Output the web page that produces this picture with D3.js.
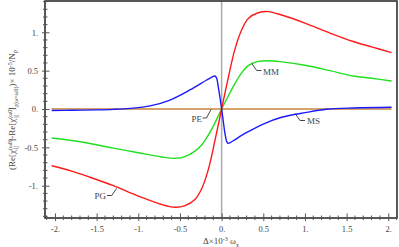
<!DOCTYPE html>
<html>
<head>
<meta charset="utf-8">
<script src="https://cdn.jsdelivr.net/npm/d3@7/dist/d3.min.js"></script>
<style>
  html, body { margin: 0; padding: 0; background: #fff; }
  svg { display: block; font-family: "Liberation Serif", "DejaVu Serif", serif; }
</style>
</head>
<body>
<svg></svg>
<script>
let w = 399
let h = 247
let pL = 45, pR = 397, pT = 1, pB = 218

// curves
let pgX = [-2.04, -1.8, -1.58, -1.3, -1.0, -0.72, -0.56, -0.44, -0.32, -0.24, -0.16, -0.08, 0, 0.08, 0.16, 0.24, 0.32, 0.44, 0.56, 0.72, 1.0, 1.3, 1.58, 1.8, 2.04]
let pgY = [-0.74, -0.81, -0.89, -1.0, -1.135, -1.245, -1.28, -1.26, -1.18, -1.04, -0.79, -0.41, 0, 0.41, 0.78, 1.03, 1.18, 1.255, 1.27, 1.225, 1.12, 0.99, 0.88, 0.81, 0.735]

let mmX = pgX
let mmY = [-0.378, -0.41, -0.45, -0.51, -0.57, -0.625, -0.643, -0.62, -0.55, -0.47, -0.34, -0.18, 0, 0.17, 0.33, 0.47, 0.565, 0.62, 0.63, 0.615, 0.57, 0.5, 0.43, 0.4, 0.365]

let msX = [-2.04, -1.8, -1.5, -1.3, -1.1, -0.86, -0.62, -0.38, -0.18, -0.11, -0.08, -0.06, -0.04, -0.02, 0, 0.02, 0.04, 0.06, 0.075, 0.1, 0.16, 0.24, 0.32, 0.52, 0.72, 1.0, 1.26, 1.58, 2.04]
let msY = [-0.02, -0.017, -0.012, -0.005, 0.008, 0.04, 0.117, 0.248, 0.378, 0.42, 0.43, 0.4, 0.29, 0.15, 0, -0.16, -0.32, -0.42, -0.447, -0.44, -0.40, -0.345, -0.296, -0.187, -0.108, -0.048, -0.004, 0.013, 0.022]

let peX = [-2.04, 2.04]
let peY = [0, 0]

let xTicks = [-2, -1.5, -1, -0.5, 0, 0.5, 1, 1.5, 2]
let yTicks = [-1, -0.5, 0, 0.5, 1]

let svg = d3.select("svg").attr("width", w).attr("height", h)

let xScale = d3.scaleLinear().domain([-2.12, 2.105]).range([pL, pR])
let yScale = d3.scaleLinear().domain([-1.421, 1.408]).range([pB, pT])

let fmt = (d) => Number.isInteger(d) ? d + "." : String(d)

// zero line
svg.append("line")
   .attr("x1", xScale(0)).attr("x2", xScale(0))
   .attr("y1", pT).attr("y2", pB)
   .attr("stroke", "#aaa").attr("stroke-width", 1.5)

let line = d3.line()
             .x((d) => xScale(d[0]))
             .y((d) => yScale(d[1]))
             .curve(d3.curveCatmullRom.alpha(0.5))

let series = [
  {x: peX, y: peY, color: "#c8843c"},
  {x: mmX, y: mmY, color: "#1fe01f"},
  {x: pgX, y: pgY, color: "#ff1a1a"},
  {x: msX, y: msY, color: "#1a1aff"}
]

series.forEach((s) => {
  svg.append("path")
     .datum(s.x.map((v, i) => [v, s.y[i]]))
     .attr("d", line)
     .attr("fill", "none")
     .attr("stroke", s.color)
     .attr("stroke-width", 1.4)
})

// frame
svg.append("rect")
   .attr("x", pL).attr("y", pT)
   .attr("width", pR - pL).attr("height", pB - pT)
   .attr("fill", "none").attr("stroke", "#222").attr("stroke-width", 1.5)

// minor ticks
let minorX = d3.range(-21, 22).map((i) => i / 10).filter((v) => Math.abs(v * 2 - Math.round(v * 2)) > 1e-6)
let minorY = d3.range(-14, 15).map((i) => i / 10).filter((v) => Math.abs(v * 2 - Math.round(v * 2)) > 1e-6)

svg.selectAll(".mx").data(minorX).enter().append("line")
   .attr("x1", (d) => xScale(d)).attr("x2", (d) => xScale(d))
   .attr("y1", pB - 2.5).attr("y2", pB + 2)
   .attr("stroke", "#555").attr("stroke-width", 1)

svg.selectAll(".my").data(minorY).enter().append("line")
   .attr("y1", (d) => yScale(d)).attr("y2", (d) => yScale(d))
   .attr("x1", pL - 2).attr("x2", pL + 2.5)
   .attr("stroke", "#555").attr("stroke-width", 1)

let xAxis = d3.axisBottom(xScale).tickValues(xTicks).tickFormat(fmt).tickSize(3).tickPadding(5)
let yAxis = d3.axisLeft(yScale).tickValues(yTicks).tickFormat(fmt).tickSize(3).tickPadding(4)

let gx = svg.append("g").attr("transform", `translate(0, ${pB})`).call(xAxis)
let gy = svg.append("g").attr("transform", `translate(${pL}, 0)`).call(yAxis)

;[gx, gy].forEach((g) => {
  g.select(".domain").remove()
  g.selectAll("text").attr("font-family", "Liberation Serif").attr("font-size", 8.5).attr("fill", "#444")
  g.selectAll(".tick line").attr("stroke", "#555").attr("stroke-width", 1)
})
gx.selectAll(".tick line").attr("y1", -4.5).attr("y2", 3)
gy.selectAll(".tick line").attr("x1", -3).attr("x2", 4.5)

// callouts
let callouts = [
  {name: "PG", pts: [[116.7, 188.3], [111.7, 195.5], [107, 195.5]], tx: 106, ty: 198.5, anchor: "end"},
  {name: "MM", pts: [[251.7, 63.3], [256.7, 70.5], [261.5, 70.5]], tx: 263, ty: 74.5, anchor: "start"},
  {name: "PE", pts: [[211, 109.5], [206.5, 118], [202.5, 118]], tx: 202, ty: 121.5, anchor: "end"},
  {name: "MS", pts: [[295, 113.3], [300, 120.5], [305, 120.5]], tx: 307, ty: 124, anchor: "start"}
]

callouts.forEach((c) => {
  svg.append("path")
     .attr("d", d3.line()(c.pts))
     .attr("fill", "none").attr("stroke", "#333").attr("stroke-width", 0.9)
  svg.append("text")
     .attr("x", c.tx).attr("y", c.ty)
     .attr("text-anchor", c.anchor)
     .attr("font-size", 9).attr("fill", "#444")
     .text(c.name)
})

// x label
let xl = svg.append("text")
            .attr("x", 221).attr("y", 244)
            .attr("text-anchor", "middle")
            .attr("font-size", 9).attr("fill", "#444")
xl.append("tspan").text("Δ×10")
xl.append("tspan").attr("baseline-shift", "super").attr("font-size", 6).text("-3")
xl.append("tspan").text(" ω")
xl.append("tspan").attr("baseline-shift", "sub").attr("font-size", 6).text("x")

// y label
let yl = svg.append("text")
            .attr("transform", "translate(15, 110) rotate(-90)")
            .attr("text-anchor", "middle")
            .attr("font-size", 9).attr("fill", "#444")
yl.append("tspan").text("(Re[χ")
yl.append("tspan").attr("baseline-shift", "super").attr("font-size", 6).text("(ω0)")
yl.append("tspan").attr("dx", -10).attr("baseline-shift", "sub").attr("font-size", 6).text("ij")
yl.append("tspan").attr("dx", 4).text("]-Re[χ")
yl.append("tspan").attr("baseline-shift", "super").attr("font-size", 6).text("(ω0)")
yl.append("tspan").attr("dx", -10).attr("baseline-shift", "sub").attr("font-size", 6).text("ij")
yl.append("tspan").attr("dx", 4).text("]")
yl.append("tspan").attr("baseline-shift", "sub").attr("font-size", 6).text("χ(ω=ω0)")
yl.append("tspan").text(")× 10")
yl.append("tspan").attr("baseline-shift", "super").attr("font-size", 6).text("-5")
yl.append("tspan").text("/N")
yl.append("tspan").attr("baseline-shift", "sub").attr("font-size", 6).text("P")
</script>
</body>
</html>
